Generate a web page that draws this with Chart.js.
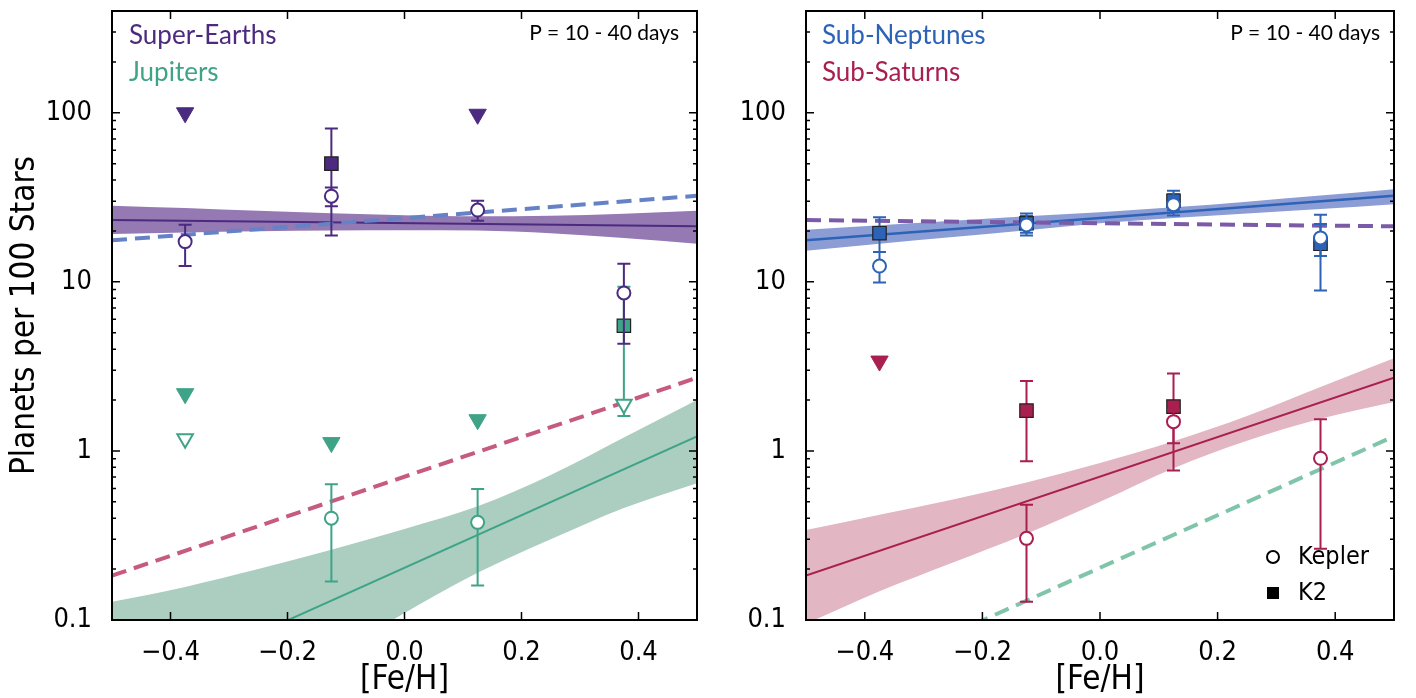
<!DOCTYPE html>
<html>
<head>
<meta charset="utf-8">
<title>Planet occurrence vs metallicity</title>
<script src="https://cdn.jsdelivr.net/npm/chart.js@4.4.1/dist/chart.umd.min.js"></script>
<style>
  body { margin: 0; background: #fff; }
  .panel { position: absolute; top: 0; width: 708px; height: 698px; }
  #left { left: 0; }
  #right { left: 708px; }
</style>
</head>
<body>
<div class="panel" id="left"><canvas id="chart-left"></canvas></div>
<div class="panel" id="right"><canvas id="chart-right"></canvas></div>
<script>
// axes
const xTicks = [-0.4, -0.2, 0, 0.2, 0.4];
const yMajor = [0.1, 1, 10, 100];
const yMajorLabels = ['0.1', '1', '10', '100'];

// metallicity bins and fit grid
const feh = [-0.375, -0.125, 0.125, 0.375];
const fitX = [-0.5, 0.5];
const bandX = [-0.5, -0.375, -0.25, -0.125, 0, 0.125, 0.25, 0.375, 0.5];

// Super-Earths
const seFit = [23.2, 21.3];
const seBandHi = [28.2, 27.3, 26.3, 25.5, 24.8, 24.4, 24.6, 25.3, 26.3];
const seBandLo = [19.2, 19.6, 19.9, 20.1, 20.2, 20.1, 19.4, 18.2, 16.8];
const seKepler = [17.3, 32.1, 26.6, 8.6];
const seKeplerLo = [12.4, 28.0, 23.0, 4.3];
const seKeplerHi = [21.8, 36.1, 30.2, 12.8];
const seK2 = [null, 50, null, null];
const seK2Lo = [null, 18.8, null, null];
const seK2Hi = [null, 80.7, null, null];
const seLimit = [100, null, 98, null];

// Jupiters
const jupFit = [0.034, 1.22];
const jupBandHi = [0.128, 0.157, 0.2, 0.26, 0.345, 0.47, 0.72, 1.2, 2.0];
const jupBandLo = [0.01, 0.018, 0.033, 0.06, 0.11, 0.19, 0.30, 0.46, 0.645];
const jupKepler = [null, 0.40, 0.378, null];
const jupKeplerLo = [null, 0.169, 0.16, null];
const jupKeplerHi = [null, 0.635, 0.596, null];
const jupK2 = [null, null, null, 5.5];
const jupK2Lo = [null, null, null, 1.61];
const jupK2Hi = [null, null, null, 9.35];
const jupLimit = [2.18, 1.12, 1.53, null];
const jupLimitKepler = [1.18, null, null, 1.89];

// Sub-Neptunes
const snFit = [17.6, 32.3];
const snBandHi = [20.3, 21.6, 23.0, 24.4, 25.8, 27.6, 29.8, 32.4, 35.3];
const snBandLo = [15.3, 16.8, 18.4, 20.2, 22.2, 23.9, 25.4, 27.0, 28.8];
const snKepler = [12.4, 21.7, 28.6, 18.2];
const snKeplerLo = [9.9, 18.8, 24.7, 14.2];
const snKeplerHi = [15.0, 25.4, 34.6, 24.9];
const snK2 = [19.4, 22.2, 30.2, 16.8];
const snK2Lo = [15.0, 19.5, 26.5, 8.9];
const snK2Hi = [24.1, 24.5, 33.0, 22.0];

// Sub-Saturns
const ssFit = [0.183, 2.71];
const ssBandHi = [0.341, 0.42, 0.516, 0.65, 0.847, 1.14, 1.61, 2.39, 3.53];
const ssBandLo = [0.095, 0.148, 0.219, 0.324, 0.50, 0.79, 1.15, 1.55, 1.95];
const ssKepler = [null, 0.304, 1.49, 0.905];
const ssKeplerLo = [null, 0.128, 0.767, 0.264];
const ssKeplerHi = [null, 0.48, 1.75, 1.54];
const ssK2 = [null, 1.73, 1.83, null];
const ssK2Lo = [null, 0.87, 1.11, null];
const ssK2Hi = [null, 2.59, 2.87, null];
const ssLimit = [3.4, null, null, null];

const purple = '#4b2a80', green = '#3fa387', blue = '#2d63b6', crimson = '#a81f50';

function pts(xs, ys) {
    return xs.map((x, i) => ({ x: x, y: ys[i] })).filter(p => p.y != null);
}

function errs(lo, hi) {
    return feh.map((x, i) => ({ x: x, lo: lo[i], hi: hi[i] })).filter(e => e.lo != null);
}

function band(hi, lo, color) {
    const common = { borderWidth: 0, pointRadius: 0, cubicInterpolationMode: 'monotone', order: 20 };
    return [
        { ...common, data: pts(bandX, hi), backgroundColor: color, fill: '+1' },
        { ...common, data: pts(bandX, lo), fill: false }
    ];
}

function fitLine(ys, color, width, dash, order) {
    return { data: pts(fitX, ys), borderColor: color, borderWidth: width, borderDash: dash, pointRadius: 0, fill: false, order: order };
}

function kepler(ys, lo, hi, color) {
    return { data: pts(feh, ys), showLine: false, pointStyle: 'circle', pointRadius: 6.5,
        pointBackgroundColor: '#fff', pointBorderColor: color, pointBorderWidth: 2,
        errors: errs(lo, hi), errColor: color, order: 4 };
}

function k2(ys, lo, hi, color) {
    return { data: pts(feh, ys), showLine: false, pointStyle: 'rect', pointRadius: 9.5,
        pointBackgroundColor: color, pointBorderColor: '#222', pointBorderWidth: 1.2,
        errors: errs(lo, hi), errColor: color, order: 6 };
}

function limit(ys, color, open) {
    return { data: pts(feh, ys), showLine: false, pointStyle: 'triangle', pointRotation: 180,
        pointRadius: open ? 9 : 10, pointBackgroundColor: open ? '#fff' : color,
        pointBorderColor: color, pointBorderWidth: open ? 2 : 1, order: 2 };
}

// error bars go right under their own markers
const errorBars = {
    id: 'errorBars',
    beforeDatasetDraw(chart, args) {
        const ds = chart.data.datasets[args.index];
        if (!ds.errors) return;
        const { ctx, scales: { x, y } } = chart;
        ctx.save();
        ctx.strokeStyle = ds.errColor;
        ctx.lineWidth = 2;
        ds.errors.forEach(e => {
            const px = x.getPixelForValue(e.x);
            const top = y.getPixelForValue(e.hi);
            const bot = y.getPixelForValue(e.lo);
            ctx.beginPath();
            ctx.moveTo(px, top); ctx.lineTo(px, bot);
            ctx.moveTo(px - 6.5, top); ctx.lineTo(px + 6.5, top);
            ctx.moveTo(px - 6.5, bot); ctx.lineTo(px + 6.5, bot);
            ctx.stroke();
        });
        ctx.restore();
    }
};

// matplotlib-like box with inward ticks on all four sides
const frame = {
    id: 'frame',
    afterDraw(chart) {
        const { ctx, chartArea: a, scales: { x, y } } = chart;
        ctx.save();
        ctx.strokeStyle = '#000';
        ctx.lineWidth = 1.5;
        ctx.beginPath();
        x.ticks.forEach(t => {
            const px = x.getPixelForValue(t.value);
            ctx.moveTo(px, a.bottom); ctx.lineTo(px, a.bottom - 8);
            ctx.moveTo(px, a.top); ctx.lineTo(px, a.top + 8);
        });
        y.ticks.forEach(t => {
            const py = y.getPixelForValue(t.value);
            const len = yMajor.some(m => Math.abs(m - t.value) < 1e-9) ? 8 : 4;
            ctx.moveTo(a.left, py); ctx.lineTo(a.left + len, py);
            ctx.moveTo(a.right, py); ctx.lineTo(a.right - len, py);
        });
        ctx.stroke();
        ctx.lineWidth = 2;
        ctx.strokeRect(a.left, a.top, a.right - a.left, a.bottom - a.top);
        ctx.restore();
    }
};

function notes(items) {
    return {
        id: 'notes',
        afterDraw(chart) {
            const { ctx, chartArea: a } = chart;
            items.forEach(n => {
                ctx.save();
                ctx.font = n.font;
                ctx.fillStyle = n.color || '#000';
                ctx.textAlign = n.align || 'left';
                ctx.textBaseline = 'middle';
                const px = n.fromRight ? a.right - n.dx : a.left + n.dx;
                const py = n.fromBottom ? a.bottom - n.dy : a.top + n.dy;
                ctx.fillText(n.text, px, py);
                if (n.marker === 'circle') {
                    ctx.beginPath();
                    ctx.arc(px - 25, py, 6, 0, Math.PI * 2);
                    ctx.lineWidth = 2;
                    ctx.strokeStyle = '#000';
                    ctx.stroke();
                } else if (n.marker === 'square') {
                    ctx.fillRect(px - 31, py - 6, 12, 12);
                }
                ctx.restore();
            });
        }
    };
}

const yTickValues = [];
[0.1, 1, 10, 100].forEach(d => {
    for (let k = 1; k <= 9; k++) if (d * k <= 400) yTickValues.push(+(d * k).toPrecision(3));
});

const tickFont = { family: '"DejaVu Sans Condensed", "DejaVu Sans", sans-serif', size: 27 };
const titleFont = { family: '"DejaVu Sans Condensed", "DejaVu Sans", sans-serif', size: 33 };

function makeChart(id, datasets, extra) {
    return new Chart(document.getElementById(id), {
        type: 'line',
        data: { datasets: datasets },
        options: {
            responsive: true,
            maintainAspectRatio: false,
            animation: false,
            devicePixelRatio: 1,
            layout: { padding: { top: 5, right: extra.padRight, left: 0, bottom: 0 } },
            plugins: { legend: { display: false }, tooltip: { enabled: false } },
            scales: {
                x: {
                    type: 'linear', min: -0.5, max: 0.5,
                    afterBuildTicks: s => { s.ticks = xTicks.map(v => ({ value: v })); },
                    afterFit: s => { s.height = 78; s.paddingLeft = 0; s.paddingRight = 0; },
                    grid: { display: false },
                    border: { display: false },
                    ticks: {
                        autoSkip: false, maxRotation: 0, padding: 9, color: '#000', font: tickFont,
                        callback: v => (v < 0 ? '\u2212' : '') + Math.abs(v).toFixed(1)
                    },
                    title: { display: true, text: '[Fe/H]', color: '#000', font: titleFont, padding: { top: 0, bottom: -2 } }
                },
                y: {
                    type: 'logarithmic', min: 0.1, max: 400,
                    afterBuildTicks: s => { s.ticks = yTickValues.map(v => ({ value: v })); },
                    afterFit: s => { s.width = extra.yWidth; s.paddingTop = 0; s.paddingBottom = 0; },
                    grid: { display: false },
                    border: { display: false },
                    ticks: {
                        autoSkip: false, padding: 12, color: '#000', font: tickFont,
                        callback: v => {
                            const k = yMajor.findIndex(m => Math.abs(m - v) < 1e-9);
                            return k >= 0 ? yMajorLabels[k] : '';
                        }
                    },
                    title: { display: !!extra.yTitle, text: extra.yTitle || '', color: '#000', font: titleFont, padding: { top: 6, bottom: 0 } }
                }
            }
        },
        plugins: [errorBars, frame, notes(extra.notes)]
    });
}

const labelFont = '26px Lato, "Open Sans", sans-serif';
const periodFont = '21px Lato, "Open Sans", sans-serif';

makeChart('chart-left', [
    ...band(seBandHi, seBandLo, '#9479b3'),
    ...band(jupBandHi, jupBandLo, '#abcec1'),
    fitLine(seFit, purple, 2, [], 15),
    fitLine(jupFit, green, 2, [], 15),
    fitLine(snFit, '#6582c6', 4, [15, 8], 12),
    fitLine(ssFit, '#c65a7f', 4, [15, 8], 12),
    k2(seK2, seK2Lo, seK2Hi, purple),
    k2(jupK2, jupK2Lo, jupK2Hi, green),
    kepler(seKepler, seKeplerLo, seKeplerHi, purple),
    kepler(jupKepler, jupKeplerLo, jupKeplerHi, green),
    limit(seLimit, purple, false),
    limit(jupLimit, green, false),
    limit(jupLimitKepler, green, true)
], {
    padRight: 5, yWidth: 112, yTitle: 'Planets per 100 Stars',
    notes: [
        { text: 'Super-Earths', color: purple, font: labelFont, dx: 17, dy: 25 },
        { text: 'Jupiters', color: green, font: labelFont, dx: 17, dy: 62 },
        { text: 'P = 10 - 40 days', font: periodFont, align: 'right', fromRight: true, dx: 18, dy: 22 }
    ]
});

makeChart('chart-right', [
    ...band(snBandHi, snBandLo, '#8c9dd6'),
    ...band(ssBandHi, ssBandLo, '#e2b6c3'),
    fitLine(snFit, blue, 2.5, [], 15),
    fitLine(ssFit, crimson, 2, [], 15),
    fitLine(seFit, '#7b5ba7', 4, [15, 8], 12),
    fitLine(jupFit, '#80c5aa', 4, [15, 8], 12),
    k2(snK2, snK2Lo, snK2Hi, blue),
    k2(ssK2, ssK2Lo, ssK2Hi, crimson),
    kepler(snKepler, snKeplerLo, snKeplerHi, blue),
    kepler(ssKepler, ssKeplerLo, ssKeplerHi, crimson),
    limit(ssLimit, crimson, false)
], {
    padRight: 22, yWidth: 98, yTitle: null,
    notes: [
        { text: 'Sub-Neptunes', color: blue, font: labelFont, dx: 16, dy: 25 },
        { text: 'Sub-Saturns', color: crimson, font: labelFont, dx: 16, dy: 62 },
        { text: 'P = 10 - 40 days', font: periodFont, align: 'right', fromRight: true, dx: 14, dy: 22 },
        { text: 'Kepler', font: '25px "DejaVu Sans Condensed", "DejaVu Sans", sans-serif', fromRight: true, dx: 96, fromBottom: true, dy: 63, marker: 'circle' },
        { text: 'K2', font: '25px "DejaVu Sans Condensed", "DejaVu Sans", sans-serif', fromRight: true, dx: 96, fromBottom: true, dy: 27, marker: 'square' }
    ]
});
</script>
</body>
</html>
